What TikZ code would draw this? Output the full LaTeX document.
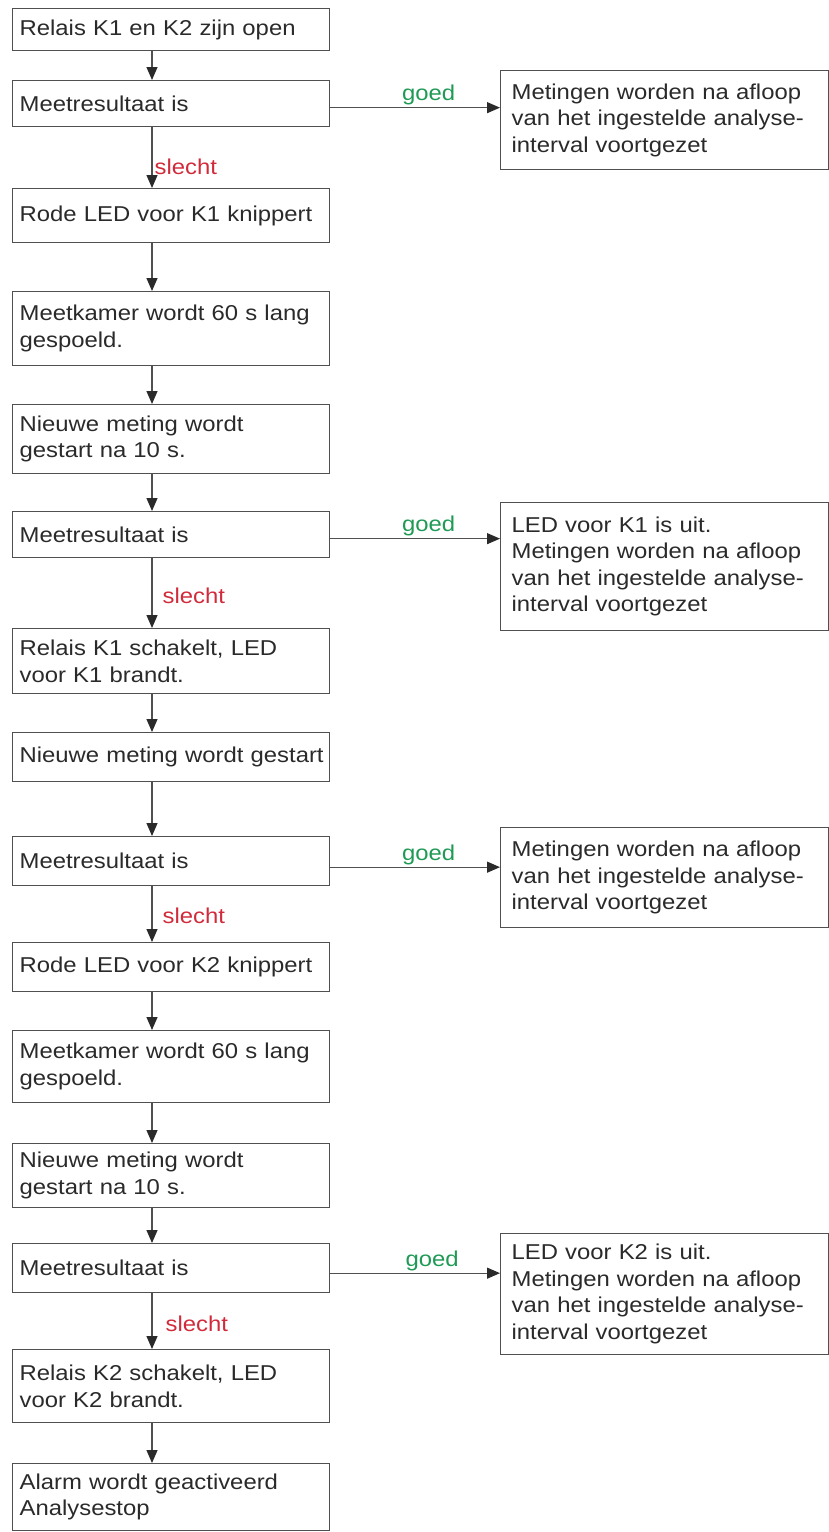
\documentclass[tikz,border=0pt]{standalone}
\usepackage{fontspec}
\setmainfont{Liberation Sans}[FakeStretch=1.11]
\usetikzlibrary{arrows.meta}
\definecolor{linegray}{HTML}{505050}
\definecolor{tipgray}{HTML}{2A2A2A}
\definecolor{txt}{HTML}{2A2A2A}
\definecolor{goedgreen}{HTML}{1F9A55}
\definecolor{slechtred}{HTML}{D12B3B}
\tikzset{
  basefont/.style={font=\fontsize{21.5}{26.5}\selectfont},
  lbox/.style={draw=linegray, line width=1.3pt, text=txt, anchor=north west,
    inner xsep=7pt, inner ysep=0pt, text width=303pt, align=left, basefont},
  rbox/.style={draw=linegray, line width=1.3pt, text=txt, anchor=north west,
    inner xsep=11pt, inner ysep=0pt, text width=306pt, align=left, basefont},
  arr/.style={draw=linegray, line width=1.2pt, -{Triangle[length=13pt,width=11pt,color=tipgray]}},
  goedlbl/.style={text=goedgreen, basefont, above, inner sep=2pt},
  slechtlbl/.style={text=slechtred, basefont, right, inner sep=2pt}
}
\begin{document}
\begin{tikzpicture}[x=1pt,y=-1pt]
\useasboundingbox (0,0) rectangle (829,1532);
\coordinate (ax) at (152,0);
% left column
\node[lbox, minimum height=42pt] (b1) at (12,8) {Relais K1 en K2 zijn open};
\node[lbox, minimum height=46pt] (b2) at (12,80) {Meetresultaat is};
\node[lbox, minimum height=54pt] (b3) at (12,188) {Rode LED voor K1 knippert};
\node[lbox, minimum height=74pt] (b4) at (12,291) {Meetkamer wordt 60 s lang\\gespoeld.};
\node[lbox, minimum height=69pt] (b5) at (12,404) {Nieuwe meting wordt\\gestart na 10 s.};
\node[lbox, minimum height=46pt] (b6) at (12,511) {Meetresultaat is};
\node[lbox, minimum height=65pt] (b7) at (12,628) {Relais K1 schakelt, LED\\voor K1 brandt.};
\node[lbox, minimum height=49pt] (b8) at (12,732) {\mbox{Nieuwe meting wordt gestart}};
\node[lbox, minimum height=49pt] (b9) at (12,836) {Meetresultaat is};
\node[lbox, minimum height=49pt] (b10) at (12,942) {Rode LED voor K2 knippert};
\node[lbox, minimum height=72pt] (b11) at (12,1030) {Meetkamer wordt 60 s lang\\gespoeld.};
\node[lbox, minimum height=64pt] (b12) at (12,1143) {Nieuwe meting wordt\\gestart na 10 s.};
\node[lbox, minimum height=49pt] (b13) at (12,1243) {Meetresultaat is};
\node[lbox, minimum height=73pt] (b14) at (12,1349) {Relais K2 schakelt, LED\\voor K2 brandt.};
\node[lbox, minimum height=67pt] (b15) at (12,1463) {Alarm wordt geactiveerd\\Analysestop};
% right column
\node[rbox, minimum height=99pt] (r1) at (500,70) {Metingen worden na afloop\\van het ingestelde analyse-\\interval voortgezet};
\node[rbox, minimum height=128pt] (r2) at (500,502) {LED voor K1 is uit.\\Metingen worden na afloop\\van het ingestelde analyse-\\interval voortgezet};
\node[rbox, minimum height=100pt] (r3) at (500,827) {Metingen worden na afloop\\van het ingestelde analyse-\\interval voortgezet};
\node[rbox, minimum height=121pt] (r4) at (500,1233) {LED voor K2 is uit.\\Metingen worden na afloop\\van het ingestelde analyse-\\interval voortgezet};
% vertical connectors
\draw[arr] (b1.south -| ax) -- (b2.north -| ax);
\draw[arr] (b2.south -| ax) -- node[slechtlbl, pos=0.65] {slecht} (b3.north -| ax);
\draw[arr] (b3.south -| ax) -- (b4.north -| ax);
\draw[arr] (b4.south -| ax) -- (b5.north -| ax);
\draw[arr] (b5.south -| ax) -- (b6.north -| ax);
\draw[arr] (b6.south -| ax) -- node[slechtlbl, pos=0.54, xshift=8pt] {slecht} (b7.north -| ax);
\draw[arr] (b7.south -| ax) -- (b8.north -| ax);
\draw[arr] (b8.south -| ax) -- (b9.north -| ax);
\draw[arr] (b9.south -| ax) -- node[slechtlbl, pos=0.53, xshift=8pt] {slecht} (b10.north -| ax);
\draw[arr] (b10.south -| ax) -- (b11.north -| ax);
\draw[arr] (b11.south -| ax) -- (b12.north -| ax);
\draw[arr] (b12.south -| ax) -- (b13.north -| ax);
\draw[arr] (b13.south -| ax) -- node[slechtlbl, pos=0.54, xshift=11pt] {slecht} (b14.north -| ax);
\draw[arr] (b14.south -| ax) -- (b15.north -| ax);
% horizontal connectors
\draw[arr] ([yshift=-4pt]b2.east) -- node[goedlbl, pos=0.58] {goed} ([yshift=-4pt]b2.east -| r1.west);
\draw[arr] ([yshift=-4pt]b6.east) -- node[goedlbl, pos=0.58] {goed} ([yshift=-4pt]b6.east -| r2.west);
\draw[arr] ([yshift=-6pt]b9.east) -- node[goedlbl, pos=0.58] {goed} ([yshift=-6pt]b9.east -| r3.west);
\draw[arr] ([yshift=-5pt]b13.east) -- node[goedlbl, pos=0.6] {goed} ([yshift=-5pt]b13.east -| r4.west);
\end{tikzpicture}
\end{document}
